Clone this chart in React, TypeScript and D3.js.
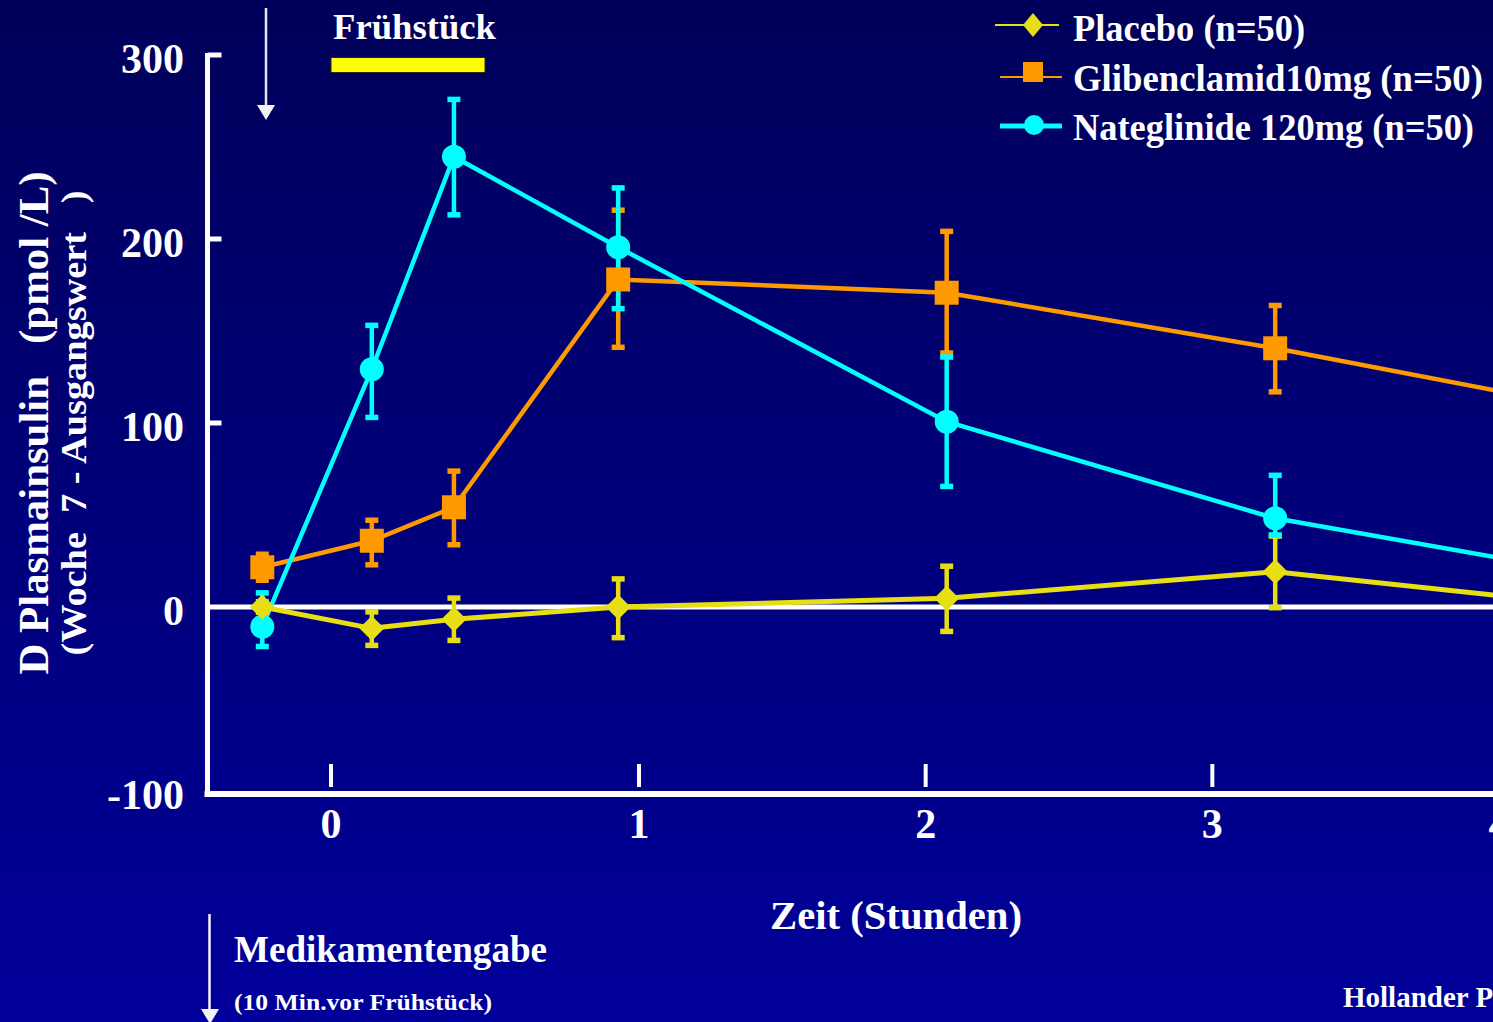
import React from "react";
import * as d3 from "d3";

// ---- data ----
const minutes = [-10, 10, 25, 55, 115, 175, 235];
const placebo = [0, -11.6, -6.7, 0, 4.7, 19.2, 0];
const placeboUp = [3, 9.1, 11.7, 15.4, 17.6, 19.5, 18];
const placeboDown = [3, 9.4, 11.6, 16.8, 18.1, 19.7, 18];
const glib = [21.6, 36, 54.2, 178, 170.8, 140.6, 106.4];
const glibUp = [7.2, 11.3, 19.8, 37.8, 33.5, 23.4, 20];
const glibDown = [7.2, 13.2, 20.5, 37, 32.9, 23.8, 20];
const nate = [-10.7, 129.2, 244.7, 195.5, 100.7, 48.2, 16.7];
const nateUp = [18.5, 24, 31.3, 32.4, 35.3, 23.5, 15];
const nateDown = [10.9, 26.3, 31.7, 33.5, 35.3, 9.2, 15];

const yTicks = [-100, 0, 100, 200, 300];
const hourTicks = [0, 1, 2, 3, 4];
const breakfastHours = [0, 0.5];

const seriesNames = ["Placebo (n=50)", "Glibenclamid10mg (n=50)", "Nateglinide 120mg (n=50)"];

const W = 1493;
const H = 1022;
const FONT = "'Liberation Serif', 'Times New Roman', serif";

const YELLOW = "#E8DE14";
const ORANGE = "#FF9900";
const CYAN = "#00FFFF";

export default function App() {
  const x = d3.scaleLinear().domain([-10, 235]).range([262.3, 1603.7]);
  const y = d3.scaleLinear().domain([-100, 300]).range([791, 55]);
  const hx = d3.scaleLinear().domain([0, 1, 4]).range([331, 639, 1499]);

  const series = [
    { name: seriesNames[0], vals: placebo, up: placeboUp, down: placeboDown, color: YELLOW, width: 5, marker: "diamond" },
    { name: seriesNames[1], vals: glib, up: glibUp, down: glibDown, color: ORANGE, width: 4.5, marker: "square" },
    { name: seriesNames[2], vals: nate, up: nateUp, down: nateDown, color: CYAN, width: 4.5, marker: "circle" },
  ];

  const line = d3
    .line<number>()
    .x((_, i) => x(minutes[i]))
    .y((d) => y(d));

  const marker = (kind: string, cx: number, cy: number, color: string, s: number, key: string) => {
    if (kind === "diamond") {
      return (
        <path key={key} d={`M${cx},${cy - s}L${cx + s},${cy}L${cx},${cy + s}L${cx - s},${cy}Z`} fill={color} />
      );
    }
    if (kind === "square") {
      return <rect key={key} x={cx - s} y={cy - s} width={2 * s} height={2 * s} fill={color} />;
    }
    return <circle key={key} cx={cx} cy={cy} r={s} fill={color} />;
  };

  const axisColor = "#FFFFFF";
  const x0 = 207.5;

  // draw order: lines, error bars, markers (orange, cyan, yellow)
  const markerOrder = [1, 2, 0];

  return (
    <svg
      width={W}
      height={H}
      style={{ position: "absolute", left: 0, top: 0, display: "block" }}
      fontFamily={FONT}
    >
      <defs>
        <linearGradient id="bg" x1="0" y1="0" x2="0" y2="1">
          <stop offset="0" stopColor="#00005A" />
          <stop offset="1" stopColor="#00009A" />
        </linearGradient>
      </defs>
      <rect x={0} y={0} width={W} height={H} fill="url(#bg)" />

      {/* y axis */}
      <line x1={x0} x2={x0} y1={y(300) - 2} y2={y(-100) + 6} stroke={axisColor} strokeWidth={5} />
      {yTicks
        .filter((t) => t > 0)
        .map((t) => (
          <line key={"yt" + t} x1={x0} x2={x0 + 14} y1={y(t)} y2={y(t)} stroke={axisColor} strokeWidth={5} />
        ))}
      {yTicks.map((t) => (
        <text
          key={"yl" + t}
          x={184}
          y={y(t) + 18}
          textAnchor="end"
          fontSize={42}
          fontWeight="bold"
          fill="#FFFFFF"
        >
          {t}
        </text>
      ))}
      {/* zero line */}
      <line x1={x0} x2={W} y1={y(0)} y2={y(0)} stroke={axisColor} strokeWidth={5} />
      {/* bottom axis */}
      <line x1={x0 - 3} x2={W} y1={y(-100) + 3} y2={y(-100) + 3} stroke={axisColor} strokeWidth={6} />
      {hourTicks.map((h) => (
        <line key={"xt" + h} x1={hx(h)} x2={hx(h)} y1={764} y2={787} stroke={axisColor} strokeWidth={4} />
      ))}
      {hourTicks.map((h) => (
        <text key={"xl" + h} x={hx(h)} y={838} textAnchor="middle" fontSize={42} fontWeight="bold" fill="#FFFFFF">
          {h}
        </text>
      ))}

      {/* lines */}
      {series.map((s) => (
        <path key={"l" + s.name} d={line(s.vals) || ""} fill="none" stroke={s.color} strokeWidth={s.width} />
      ))}

      {/* error bars */}
      {series.map((s) =>
        s.vals.map((v, i) => {
          const cx = x(minutes[i]);
          const yt = y(v + s.up[i]);
          const yb = y(v - s.down[i]);
          return (
            <g key={"e" + s.name + i} fill={s.color} stroke="none">
              <rect x={cx - 2.25} y={yt} width={4.5} height={yb - yt} />
              <rect x={cx - 6.5} y={yt - 2.5} width={13} height={5.5} />
              <rect x={cx - 6.5} y={yb - 3} width={13} height={5.5} />
            </g>
          );
        })
      )}

      {/* markers */}
      {markerOrder.map((si) => {
        const s = series[si];
        return s.vals.map((v, i) =>
          marker(s.marker, x(minutes[i]), y(v), s.color, s.marker === "diamond" ? 12.5 : 12, "m" + si + "-" + i)
        );
      })}

      {/* breakfast bar */}
      <rect
        x={hx(breakfastHours[0])}
        y={57.5}
        width={hx(breakfastHours[1]) - hx(breakfastHours[0])}
        height={15}
        fill="#FFFF00"
        stroke="#2A2A00"
        strokeWidth={1}
      />
      <text x={333} y={39} fontSize={36} fontWeight="bold" fill="#FFFFFF" textLength={163} lengthAdjust="spacingAndGlyphs">
        Frühstück
      </text>

      {/* top arrow */}
      <line x1={266} x2={266} y1={8} y2={108} stroke="#E6E6EE" strokeWidth={2.5} />
      <path d="M257,105L275,105L266,120Z" fill="#F2F2F6" />

      {/* bottom arrow */}
      <line x1={209.5} x2={209.5} y1={914} y2={1012} stroke="#F2F2F6" strokeWidth={2.5} />
      <path d="M201,1009L219,1009L210,1024Z" fill="#F2F2F6" />

      {/* legend */}
      <line x1={995} x2={1059} y1={25} y2={25} stroke={YELLOW} strokeWidth={1.8} />
      <path d="M1033,13L1043,25L1033,37L1023,25Z" fill={YELLOW} />
      <line x1={1000} x2={1062} y1={77} y2={77} stroke={ORANGE} strokeWidth={2} />
      <rect x={1023} y={62} width={20} height={20} fill={ORANGE} />
      <line x1={1000} x2={1062} y1={126} y2={126} stroke={CYAN} strokeWidth={5} />
      <circle cx={1034} cy={125} r={10} fill={CYAN} />
      {[
        { t: seriesNames[0], by: 41, len: 232 },
        { t: seriesNames[1], by: 91, len: 410 },
        { t: seriesNames[2], by: 140, len: 401 },
      ].map((l) => (
        <text
          key={l.t}
          x={1073}
          y={l.by}
          fontSize={37}
          fontWeight="bold"
          fill="#FFFFFF"
          textLength={l.len}
          lengthAdjust="spacingAndGlyphs"
        >
          {l.t}
        </text>
      ))}

      {/* y axis title */}
      <text
        transform="translate(48,423) rotate(-90)"
        textAnchor="middle"
        fontSize={42}
        fontWeight="bold"
        fill="#FFFFFF"
        textLength={503}
        lengthAdjust="spacingAndGlyphs"
        style={{ whiteSpace: "pre" }}
      >
        {"D Plasmainsulin   (pmol /L)"}
      </text>
      <text
        transform="translate(86,423) rotate(-90)"
        textAnchor="middle"
        fontSize={36}
        fontWeight="bold"
        fill="#FFFFFF"
        textLength={465}
        lengthAdjust="spacingAndGlyphs"
        style={{ whiteSpace: "pre" }}
      >
        {"(Woche  7 - Ausgangswert   )"}
      </text>

      {/* x axis title */}
      <text x={770} y={929} fontSize={41} fontWeight="bold" fill="#FFFFFF" textLength={252} lengthAdjust="spacingAndGlyphs">
        Zeit (Stunden)
      </text>

      {/* annotations */}
      <text x={234} y={962} fontSize={37} fontWeight="bold" fill="#FFFFFF" textLength={313} lengthAdjust="spacingAndGlyphs">
        Medikamentengabe
      </text>
      <text x={234} y={1010} fontSize={23} fontWeight="bold" fill="#FFFFFF" textLength={258} lengthAdjust="spacingAndGlyphs">
        (10 Min.vor Frühstück)
      </text>
      <text x={1343} y={1007} fontSize={29} fontWeight="bold" fill="#FFFFFF">
        Hollander P et al.
      </text>
    </svg>
  );
}
